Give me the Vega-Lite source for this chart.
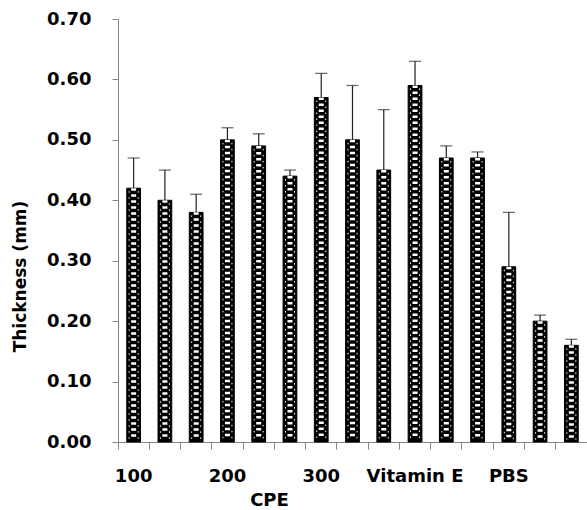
{
  "$schema": "https://vega.github.io/schema/vega-lite/v6.json",
  "width": 469,
  "height": 423,
  "autosize": {"type": "none"},
  "padding": {"left": 118, "top": 19, "right": 0, "bottom": 68},
  "background": "white",
  "config": {"view": {"stroke": null}},
  "data": {
    "values": [
      {"id": 1, "group": "100", "thickness": 0.42, "upper": 0.47},
      {"id": 2, "group": "100", "thickness": 0.40, "upper": 0.45},
      {"id": 3, "group": "100", "thickness": 0.38, "upper": 0.41},
      {"id": 4, "group": "200", "thickness": 0.50, "upper": 0.52},
      {"id": 5, "group": "200", "thickness": 0.49, "upper": 0.51},
      {"id": 6, "group": "200", "thickness": 0.44, "upper": 0.45},
      {"id": 7, "group": "300", "thickness": 0.57, "upper": 0.61},
      {"id": 8, "group": "300", "thickness": 0.50, "upper": 0.59},
      {"id": 9, "group": "300", "thickness": 0.45, "upper": 0.55},
      {"id": 10, "group": "Vitamin E", "thickness": 0.59, "upper": 0.63},
      {"id": 11, "group": "Vitamin E", "thickness": 0.47, "upper": 0.49},
      {"id": 12, "group": "Vitamin E", "thickness": 0.47, "upper": 0.48},
      {"id": 13, "group": "PBS", "thickness": 0.29, "upper": 0.38},
      {"id": 14, "group": "PBS", "thickness": 0.20, "upper": 0.21},
      {"id": 15, "group": "PBS", "thickness": 0.16, "upper": 0.17}
    ]
  },
  "encoding": {
    "x": {
      "field": "id",
      "type": "ordinal",
      "scale": {"paddingInner": 0, "paddingOuter": 0},
      "axis": {
        "title": "CPE",
        "titleFont": "DejaVu Sans",
        "titleFontWeight": "bold",
        "titleFontSize": 18,
        "titleColor": "black",
        "titleX": 151,
        "titleY": 63,
        "titleBaseline": "alphabetic",
        "titleAnchor": null,
        "bandPosition": 0,
        "labelAngle": 0,
        "labelFont": "DejaVu Sans",
        "labelFontWeight": "bold",
        "labelFontSize": 18,
        "labelColor": "black",
        "labelPadding": 18,
        "labelExpr": "datum.value == 1 ? '100' : datum.value == 4 ? '200' : datum.value == 7 ? '300' : datum.value == 10 ? 'Vitamin E' : datum.value == 13 ? 'PBS' : ''",
        "labelOverlap": false,
        "domainColor": "#868686",
        "tickColor": "#868686",
        "tickSize": 7,
        "grid": false
      }
    }
  },
  "layer": [
    {
      "mark": {"type": "bar", "width": {"band": 0.44}, "fill": "black", "stroke": "black", "strokeWidth": 1},
      "encoding": {
        "y": {
          "field": "thickness",
          "type": "quantitative",
          "scale": {"domain": [0, 0.7], "nice": false},
          "axis": {
            "title": "Thickness (mm)",
            "titleFont": "DejaVu Sans",
            "titleFontWeight": "bold",
            "titleFontSize": 17,
            "titleColor": "black",
            "titleAngle": -90,
            "titleX": -93,
            "titleY": 257,
            "titleBaseline": "alphabetic",
            "titleAlign": "center",
            "titleAnchor": null,
            "values": [0, 0.1, 0.2, 0.3, 0.4, 0.5, 0.6, 0.7],
            "format": ".2f",
            "labelFont": "DejaVu Sans",
            "labelFontWeight": "bold",
            "labelFontSize": 18,
            "labelColor": "black",
            "labelPadding": 21,
            "domainColor": "#868686",
            "tickColor": "#868686",
            "tickSize": 6,
            "grid": false
          }
        }
      }
    },
    {
      "mark": {"type": "rule", "color": "white", "strokeWidth": 5, "strokeDash": [2.5, 3.5]},
      "encoding": {
        "y": {"field": "thickness", "type": "quantitative"},
        "y2": {"datum": 0.004}
      }
    },
    {
      "mark": {"type": "rule", "color": "white", "strokeWidth": 1, "strokeDash": [1.5, 4.5], "strokeDashOffset": 3, "xOffset": -4.5},
      "encoding": {
        "y": {"field": "thickness", "type": "quantitative"},
        "y2": {"datum": 0.004}
      }
    },
    {
      "mark": {"type": "rule", "color": "white", "strokeWidth": 1, "strokeDash": [1.5, 4.5], "strokeDashOffset": 3, "xOffset": 4.5},
      "encoding": {
        "y": {"field": "thickness", "type": "quantitative"},
        "y2": {"datum": 0.004}
      }
    },
    {
      "mark": {"type": "rule", "color": "#222222", "strokeWidth": 1.2},
      "encoding": {
        "y": {"field": "thickness", "type": "quantitative"},
        "y2": {"field": "upper"}
      }
    },
    {
      "mark": {"type": "tick", "orient": "horizontal", "color": "#222222", "size": 12, "thickness": 1.2},
      "encoding": {
        "y": {"field": "upper", "type": "quantitative"}
      }
    }
  ]
}
